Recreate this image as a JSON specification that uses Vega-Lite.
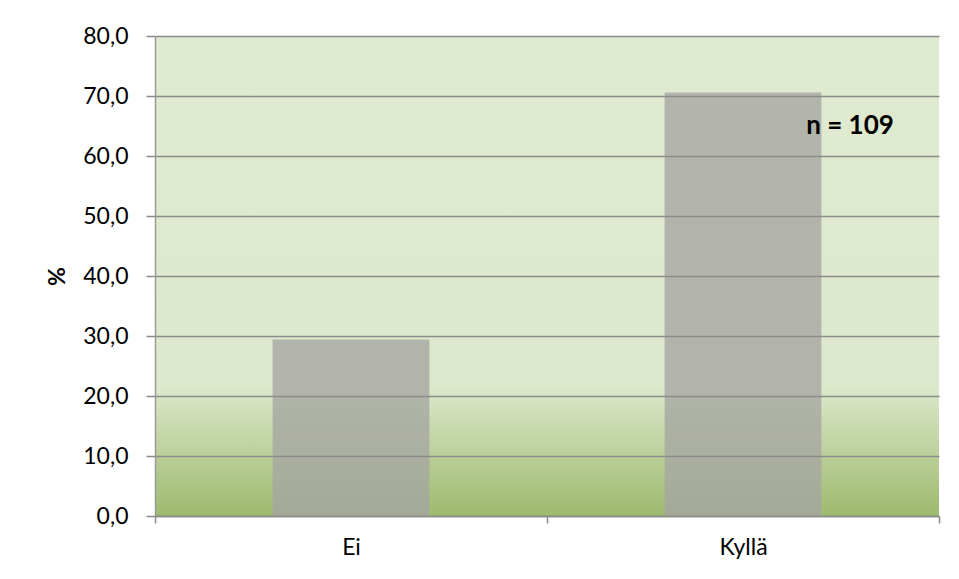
{
  "$schema": "https://vega.github.io/schema/vega-lite/v6.json",
  "width": 784,
  "height": 480,
  "autosize": {"type": "none"},
  "padding": {"left": 155, "top": 36, "right": 20, "bottom": 63},
  "background": "#ffffff",
  "config": {
    "view": {"stroke": null},
    "font": "Lato",
    "locale": {
      "number": {"decimal": ",", "thousands": " ", "grouping": [3], "currency": ["", " €"]}
    }
  },
  "datasets": {
    "vastaukset": [
      {"vastaus": "Ei", "osuus": 29.4},
      {"vastaus": "Kyllä", "osuus": 70.6}
    ]
  },
  "layer": [
    {
      "data": {"values": [{"alku": 0, "loppu": 80}]},
      "mark": {
        "type": "rect",
        "fill": {
          "gradient": "linear",
          "x1": 0, "y1": 0, "x2": 0, "y2": 1,
          "stops": [
            {"offset": 0, "color": "#dfead0"},
            {"offset": 0.73, "color": "#dde8cc"},
            {"offset": 1, "color": "#9dba6e"}
          ]
        }
      },
      "encoding": {
        "y": {"field": "alku", "type": "quantitative", "scale": {"domain": [0, 80]}},
        "y2": {"field": "loppu"}
      }
    },
    {
      "data": {"name": "vastaukset"},
      "mark": {"type": "bar", "color": "#a5a5a2", "opacity": 0.78, "width": {"band": 0.4}},
      "encoding": {
        "x": {
          "field": "vastaus",
          "type": "nominal",
          "sort": null,
          "scale": {"paddingInner": 0, "paddingOuter": 0},
          "axis": {
            "title": null,
            "labelAngle": 0,
            "labelFontSize": 23,
            "labelColor": "#000000",
            "labelPadding": 13,
            "tickBand": "extent",
            "tickSize": 7,
            "tickWidth": 1.5,
            "tickColor": "#8a8a8a",
            "domainColor": "#8a8a8a",
            "domainWidth": 1.5,
            "grid": false,
            "zindex": 1
          }
        },
        "y": {
          "field": "osuus",
          "type": "quantitative",
          "scale": {"domain": [0, 80], "nice": false},
          "axis": {
            "title": "%",
            "titleFontSize": 23,
            "titleFontWeight": "bold",
            "titleColor": "#000000",
            "titlePadding": 13,
            "values": [0, 10, 20, 30, 40, 50, 60, 70, 80],
            "format": ".1f",
            "labelFontSize": 23,
            "labelColor": "#000000",
            "labelPadding": 18,
            "tickSize": 9,
            "tickWidth": 1.5,
            "tickColor": "#8a8a8a",
            "domainColor": "#9a9a9a",
            "domainWidth": 1.5,
            "grid": true,
            "gridColor": "#8c8c8c",
            "gridWidth": 1.5,
            "zindex": 1
          }
        }
      }
    },
    {
      "data": {"values": [{"teksti": "n = 109"}]},
      "mark": {"type": "text", "fontSize": 26, "fontWeight": "bold", "color": "#000000", "align": "center", "baseline": "middle", "dx": 107},
      "encoding": {
        "x": {"datum": "Kyllä", "type": "nominal"},
        "y": {"datum": 65, "type": "quantitative"},
        "text": {"field": "teksti"}
      }
    }
  ]
}
